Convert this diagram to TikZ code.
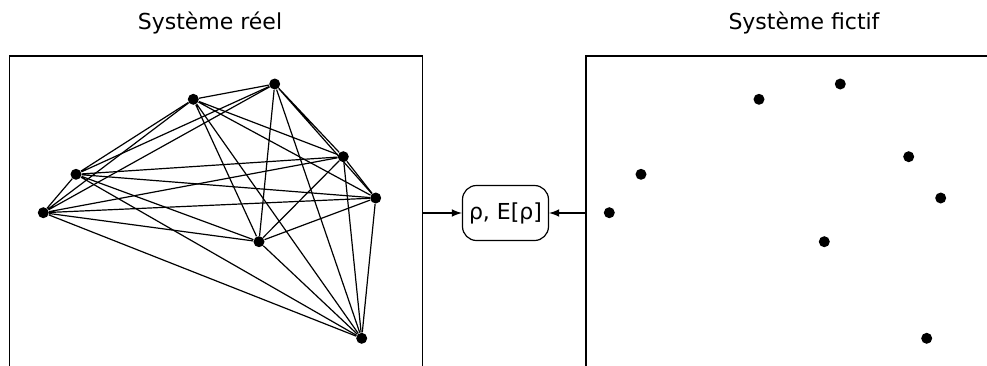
\documentclass[tikz,border=0pt]{standalone}
\usepackage{fontspec}
\setmainfont{DejaVu Sans}
\usepackage{tikz}
\usetikzlibrary{positioning}
\tikzstyle{frame} = [line width=0.75pt]
\tikzstyle{edge} = [line width=0.6pt]
\tikzstyle{dot} = [circle, fill, inner sep=0pt, minimum size=5.5pt]
\tikzstyle{connector} = [line width=0.75pt,-latex]
\tikzstyle{result} = [rectangle, rounded corners=7pt, draw, line width=0.6pt, minimum width=43pt, minimum height=27.5pt, inner sep=0pt]

\begin{document}
\begin{tikzpicture}[x=0.5pt, y=-0.5pt, every node/.style={font=\fontsize{11}{13}\selectfont}]
        \useasboundingbox (0,0) rectangle (987,365);
        \node (title-real) [anchor=base] at (210,29.6) {Système réel};
        \node (title-fict) [anchor=base] at (804,29.6) {Système fictif};
        \draw [frame] (9.5,370) -- (9.5,56) -- (422.7,56) -- (422.7,370);
        \draw [frame] (586,370) -- (586,56) -- (995,56);
        % real system
        \node (real-1) [dot] at (43.3,212.7) {};
        \node (real-2) [dot] at (76,174.3) {};
        \node (real-3) [dot] at (193.3,99.3) {};
        \node (real-4) [dot] at (274.7,84) {};
        \node (real-5) [dot] at (343.3,156.7) {};
        \node (real-6) [dot] at (375.7,198) {};
        \node (real-7) [dot] at (259,241.7) {};
        \node (real-8) [dot] at (361.7,338.3) {};
        % fictitious system
        \node (fict-1) [dot] at (609.3,212.7) {};
        \node (fict-2) [dot] at (641,174.3) {};
        \node (fict-3) [dot] at (759,99.3) {};
        \node (fict-4) [dot] at (840.3,84) {};
        \node (fict-5) [dot] at (908.7,156.7) {};
        \node (fict-6) [dot] at (940.7,198) {};
        \node (fict-7) [dot] at (824.3,241.7) {};
        \node (fict-8) [dot] at (926.7,338.3) {};
        \node (density) [result] at (505.5,213) {ρ, E[ρ]};
        \coordinate (real-out) at (422.7,213);
        \coordinate (fict-out) at (586,213);
        \draw [edge] (real-1) -- (real-2) (real-1) -- (real-3) (real-1) -- (real-4) (real-1) -- (real-5)
                     (real-1) -- (real-6) (real-1) -- (real-7) (real-1) -- (real-8);
        \draw [edge] (real-2) -- (real-3) (real-2) -- (real-4) (real-2) -- (real-5) (real-2) -- (real-6)
                     (real-2) -- (real-7) (real-2) -- (real-8);
        \draw [edge] (real-3) -- (real-4) (real-3) -- (real-5) (real-3) -- (real-6) (real-3) -- (real-7)
                     (real-3) -- (real-8);
        \draw [edge] (real-4) -- (real-5) (real-4) -- (real-6) (real-4) -- (real-7) (real-4) -- (real-8);
        \draw [edge] (real-5) -- (real-6) (real-5) -- (real-7) (real-5) -- (real-8);
        \draw [edge] (real-6) -- (real-7) (real-6) -- (real-8);
        \draw [edge] (real-7) -- (real-8);
        \draw [connector] (real-out) -- (density.west);
        \draw [connector] (fict-out) -- (density.east);
    \end{tikzpicture}
\end{document}
